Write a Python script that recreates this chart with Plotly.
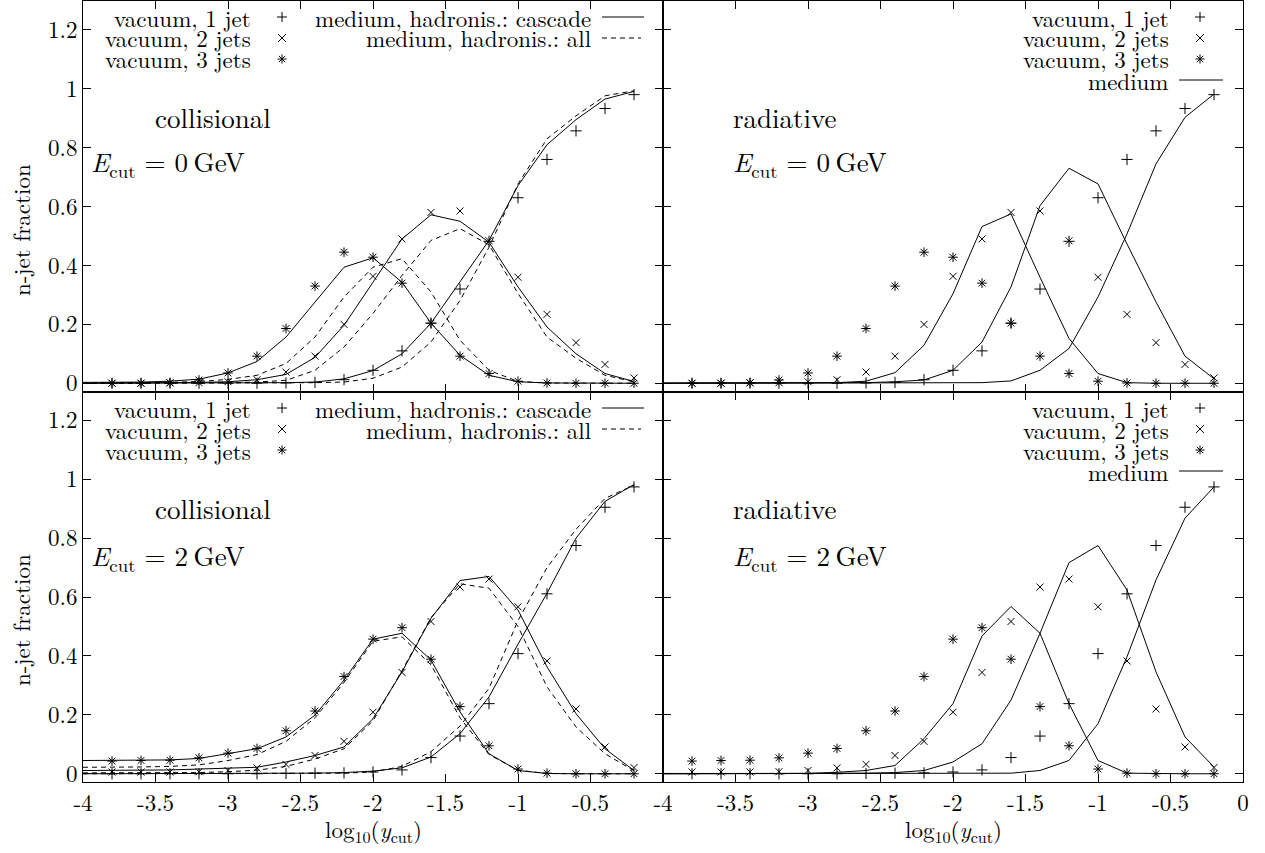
import plotly.graph_objects as go
from plotly.subplots import make_subplots

# ---------------- data ----------------
x_vac = [-3.8, -3.6, -3.4, -3.2, -3.0, -2.8, -2.6, -2.4, -2.2, -2.0,
         -1.8, -1.6, -1.4, -1.2, -1.0, -0.8, -0.6, -0.4, -0.2]
x_med = [-4.0] + x_vac

# vacuum, E_cut = 0 GeV
vac1_E0 = [0, 0, 0, 0, 0, 0, 0.001, 0.003, 0.012, 0.044, 0.11, 0.204, 0.32, 0.482, 0.63, 0.76, 0.857, 0.933, 0.98]
vac2_E0 = [0, 0, 0.001, 0.002, 0.005, 0.012, 0.038, 0.092, 0.2, 0.363, 0.49, 0.58, 0.585, 0.484, 0.36, 0.234, 0.138, 0.064, 0.018]
vac3_E0 = [0, 0, 0.002, 0.011, 0.035, 0.092, 0.186, 0.33, 0.445, 0.428, 0.34, 0.204, 0.092, 0.033, 0.007, 0.001, 0, 0, 0]

# vacuum, E_cut = 2 GeV
vac1_E2 = [0, 0, 0, 0, 0, 0, 0.001, 0.002, 0.003, 0.006, 0.013, 0.055, 0.128, 0.238, 0.408, 0.611, 0.775, 0.905, 0.974]
vac2_E2 = [0.006, 0.006, 0.006, 0.007, 0.011, 0.02, 0.032, 0.062, 0.11, 0.209, 0.344, 0.517, 0.634, 0.661, 0.567, 0.383, 0.22, 0.091, 0.021]
vac3_E2 = [0.043, 0.045, 0.046, 0.054, 0.07, 0.086, 0.146, 0.213, 0.33, 0.457, 0.496, 0.389, 0.228, 0.095, 0.016, 0.002, 0, 0, 0]

# collisional, E_cut = 0 GeV, hadronisation: cascade (solid)
cc1_E0 = [0, 0, 0, 0, 0, 0, 0.001, 0.002, 0.004, 0.015, 0.043, 0.1, 0.204, 0.343, 0.485, 0.671, 0.81, 0.895, 0.965, 0.991]
cc2_E0 = [0, 0, 0.001, 0.002, 0.003, 0.005, 0.012, 0.03, 0.088, 0.197, 0.343, 0.49, 0.572, 0.55, 0.479, 0.327, 0.191, 0.1, 0.033, 0.006]
cc3_E0 = [0.003, 0.003, 0.004, 0.007, 0.014, 0.035, 0.074, 0.157, 0.276, 0.394, 0.426, 0.343, 0.204, 0.095, 0.027, 0.005, 0.001, 0, 0, 0]
# collisional, E_cut = 0 GeV, hadronisation: all (dashed)
ca1_E0 = [0, 0, 0, 0, 0, 0, 0, 0.001, 0.002, 0.004, 0.017, 0.055, 0.14, 0.281, 0.462, 0.677, 0.83, 0.908, 0.976, 0.993]
ca2_E0 = [0, 0, 0, 0.001, 0.001, 0.002, 0.004, 0.01, 0.044, 0.123, 0.237, 0.366, 0.485, 0.525, 0.47, 0.305, 0.157, 0.085, 0.027, 0.005]
ca3_E0 = [0.001, 0.001, 0.002, 0.003, 0.006, 0.013, 0.027, 0.067, 0.157, 0.293, 0.394, 0.423, 0.31, 0.146, 0.044, 0.006, 0.001, 0, 0, 0]

# radiative, E_cut = 0 GeV (solid)
rr1_E0 = [0, 0, 0, 0, 0, 0, 0, 0, 0, 0, 0.001, 0.002, 0.008, 0.044, 0.118, 0.293, 0.507, 0.745, 0.903, 0.982]
rr2_E0 = [0, 0, 0, 0, 0, 0, 0, 0.002, 0.005, 0.011, 0.044, 0.14, 0.327, 0.603, 0.73, 0.677, 0.473, 0.276, 0.092, 0.015]
rr3_E0 = [0.001, 0.001, 0.001, 0.001, 0.001, 0.001, 0.002, 0.007, 0.036, 0.129, 0.304, 0.532, 0.575, 0.36, 0.152, 0.033, 0.002, 0, 0, 0]

# collisional, E_cut = 2 GeV, cascade (solid)
cc1_E2 = [0, 0, 0, 0, 0, 0, 0, 0.001, 0.002, 0.004, 0.009, 0.02, 0.057, 0.136, 0.261, 0.44, 0.613, 0.8, 0.925, 0.982]
cc2_E2 = [0.011, 0.011, 0.012, 0.013, 0.016, 0.018, 0.022, 0.04, 0.062, 0.091, 0.187, 0.346, 0.528, 0.656, 0.67, 0.556, 0.363, 0.204, 0.085, 0.011]
cc3_E2 = [0.045, 0.045, 0.046, 0.047, 0.052, 0.068, 0.085, 0.125, 0.199, 0.318, 0.457, 0.477, 0.386, 0.21, 0.068, 0.011, 0.001, 0, 0, 0]
# collisional, E_cut = 2 GeV, all (dashed)
ca1_E2 = [0, 0, 0, 0, 0, 0, 0, 0, 0.001, 0.002, 0.006, 0.025, 0.075, 0.162, 0.29, 0.52, 0.7, 0.83, 0.935, 0.98]
ca2_E2 = [0.003, 0.003, 0.003, 0.003, 0.004, 0.007, 0.012, 0.025, 0.05, 0.085, 0.18, 0.35, 0.53, 0.645, 0.63, 0.5, 0.295, 0.159, 0.068, 0.01]
ca3_E2 = [0.022, 0.022, 0.023, 0.025, 0.03, 0.045, 0.065, 0.11, 0.19, 0.31, 0.45, 0.465, 0.37, 0.19, 0.065, 0.012, 0.001, 0, 0, 0]

# radiative, E_cut = 2 GeV (solid)
rr1_E2 = [0, 0, 0, 0, 0, 0, 0, 0, 0, 0, 0, 0.001, 0.002, 0.011, 0.045, 0.17, 0.397, 0.658, 0.868, 0.974]
rr2_E2 = [0, 0, 0, 0, 0, 0, 0, 0.002, 0.004, 0.011, 0.04, 0.102, 0.25, 0.477, 0.717, 0.775, 0.624, 0.346, 0.125, 0.023]
rr3_E2 = [0.001, 0.001, 0.001, 0.001, 0.001, 0.001, 0.005, 0.011, 0.028, 0.119, 0.238, 0.468, 0.568, 0.477, 0.238, 0.045, 0.002, 0, 0, 0]

x_ticks = [-4, -3.5, -3, -2.5, -2, -1.5, -1, -0.5, 0]
x_text_left = ["-4", "-3.5", "-3", "-2.5", "-2", "-1.5", "-1", "-0.5", ""]
x_text_right = ["-4", "-3.5", "-3", "-2.5", "-2", "-1.5", "-1", "-0.5", "0"]
y_ticks = [0, 0.2, 0.4, 0.6, 0.8, 1.0, 1.2]
y_text = ["0", "0.2", "0.4", "0.6", "0.8", "1", "1.2"]

# ---------------- figure ----------------
W, H = 1265, 853
ML, MR, MT, MB = 83, 22, 1, 71
FONT = "Latin Modern Roman"

fig = make_subplots(rows=2, cols=2, horizontal_spacing=0, vertical_spacing=0)

SYM = {1: ("cross-thin", 8), 2: ("x-thin", 7), 3: ("asterisk", 8)}


def add_vac(row, col, ys):
    for n, y in zip((1, 2, 3), ys):
        s, sz = SYM[n]
        fig.add_trace(go.Scatter(x=x_vac, y=y, mode="markers", showlegend=False,
                                 marker=dict(symbol=s, size=sz, color="black",
                                             line=dict(color="black", width=1))),
                      row=row, col=col)


def add_med(row, col, ys, dash):
    for y in ys:
        fig.add_trace(go.Scatter(x=x_med, y=y, mode="lines", showlegend=False,
                                 line=dict(color="black", width=1, dash=dash)),
                      row=row, col=col)


add_med(1, 1, [ca1_E0, ca2_E0, ca3_E0], "5px,4px")
add_med(1, 1, [cc1_E0, cc2_E0, cc3_E0], "solid")
add_vac(1, 1, [vac1_E0, vac2_E0, vac3_E0])
add_med(1, 2, [rr1_E0, rr2_E0, rr3_E0], "solid")
add_vac(1, 2, [vac1_E0, vac2_E0, vac3_E0])
add_med(2, 1, [ca1_E2, ca2_E2, ca3_E2], "5px,4px")
add_med(2, 1, [cc1_E2, cc2_E2, cc3_E2], "solid")
add_vac(2, 1, [vac1_E2, vac2_E2, vac3_E2])
add_med(2, 2, [rr1_E2, rr2_E2, rr3_E2], "solid")
add_vac(2, 2, [vac1_E2, vac2_E2, vac3_E2])

axis_common = dict(showline=True, linecolor="black", linewidth=1, mirror="ticks",
                   ticks="inside", ticklen=8, tickcolor="black", tickwidth=1,
                   showgrid=False, zeroline=False,
                   tickfont=dict(family=FONT, size=23, color="black"))

for r in (1, 2):
    for c in (1, 2):
        fig.update_xaxes(range=[-4, 0], tickvals=x_ticks,
                         ticktext=(x_text_left if c == 1 else x_text_right),
                         showticklabels=(r == 2), row=r, col=c, **axis_common)
        fig.update_yaxes(range=[-0.028, 1.298], tickvals=y_ticks, ticktext=y_text,
                         showticklabels=(c == 1), row=r, col=c, **axis_common)

PW, PH = W - ML - MR, H - MT - MB


def px(X):
    return (X - ML) / PW


def py(Y):
    return (H - MB - Y) / PH


ann = []
shapes = []


def label(X, Y, s, size, xanchor="left", angle=0):
    ann.append(dict(x=px(X), y=py(Y), xref="paper", yref="paper", text=s,
                    showarrow=False, xanchor=xanchor, yanchor="middle",
                    textangle=angle,
                    font=dict(family=FONT, size=size, color="black")))


def seg(x0, y0, x1, y1, dash="solid"):
    shapes.append(dict(type="line", xref="paper", yref="paper",
                       x0=px(x0), y0=py(y0), x1=px(x1), y1=py(y1),
                       line=dict(color="black", width=1, dash=dash)))


def plus(X, Y, h=5):
    seg(X - h, Y, X + h, Y)
    seg(X, Y - h, X, Y + h)


def cross(X, Y, h=4):
    seg(X - h, Y - h, X + h, Y + h)
    seg(X - h, Y + h, X + h, Y - h)


def star(X, Y):
    plus(X, Y, 4.5)
    cross(X, Y, 3.2)


LEG = 23
for dy in (0, 391):
    # left (collisional) legend
    label(253, 17 + dy, "vacuum, 1 jet", LEG, "right")
    label(253, 38 + dy, "vacuum, 2 jets", LEG, "right")
    label(253, 59 + dy, "vacuum, 3 jets", LEG, "right")
    plus(282, 17 + dy)
    cross(282, 38 + dy)
    star(282, 59 + dy)
    label(593, 17 + dy, "medium, hadronis.: cascade", LEG, "right")
    label(593, 38 + dy, "medium, hadronis.: all", LEG, "right")
    seg(602, 17 + dy, 644, 17 + dy)
    seg(602, 38 + dy, 641, 38 + dy, "5px,4px")
    # right (radiative) legend
    label(1171, 17 + dy, "vacuum, 1 jet", LEG, "right")
    label(1171, 38 + dy, "vacuum, 2 jets", LEG, "right")
    label(1171, 59 + dy, "vacuum, 3 jets", LEG, "right")
    label(1171, 80 + dy, "medium", LEG, "right")
    plus(1200, 17 + dy)
    cross(1200, 38 + dy)
    star(1200, 59 + dy)
    seg(1179, 80 + dy, 1223, 80 + dy)

ecut = "<i>E</i><sub>cut</sub> = {}\u2009GeV"
label(153, 117, "collisional", 27)
label(89, 163, ecut.format(0), 27)
label(731, 117, "radiative", 27)
label(731, 163, ecut.format(0), 27)
label(153, 508, "collisional", 27)
label(89, 556, ecut.format(2), 27)
label(731, 508, "radiative", 27)
label(731, 556, ecut.format(2), 27)

label(20, 230, "n-jet fraction", 23, "center", -90)
label(20, 620, "n-jet fraction", 23, "center", -90)
xt = "log<sub>10</sub>(<i>y</i><sub>cut</sub>)"
label(373, 830, xt, 23, "center")
label(953, 830, xt, 23, "center")

fig.update_layout(width=W, height=H, margin=dict(l=ML, r=MR, t=MT, b=MB),
                  plot_bgcolor="white", paper_bgcolor="white",
                  font=dict(family=FONT, color="black"),
                  annotations=ann, shapes=shapes, showlegend=False)

fig.write_html("out.html", config={"displayModeBar": False},
               post_script="document.body.style.margin='0px';document.body.style.padding='0px';")
